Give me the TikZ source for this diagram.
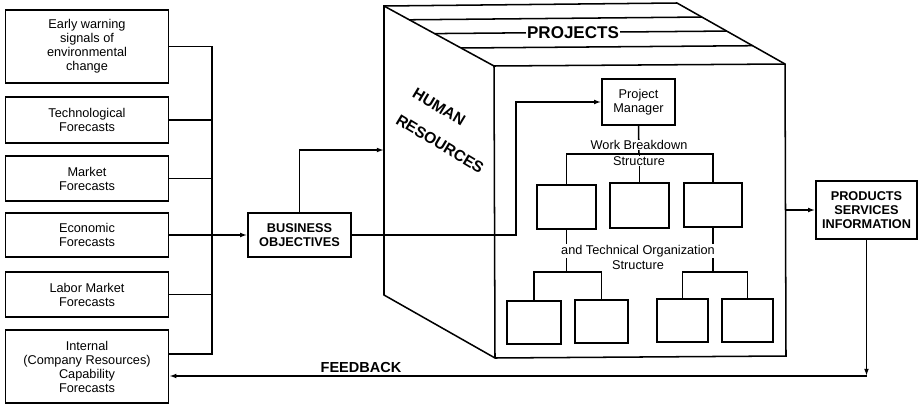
\documentclass[tikz,border=0pt]{standalone}
\usepackage{fontspec}
\setmainfont{Liberation Sans}
\usetikzlibrary{arrows.meta,calc}
\tikzset{>={Latex[width=1.2mm,length=1.8mm]}}
\tikzset{
  fcbox/.style={shape=rectangle,draw,inner sep=0pt,minimum width=1.63in,align=center,font=\fontsize{9.2}{10.1}\selectfont},
  capbox/.style={shape=rectangle,draw,inner sep=0pt,align=center,font=\fontsize{9.2}{10.1}\selectfont\bfseries},
  orgbox/.style={shape=rectangle,draw,inner sep=0pt},
  orglabel/.style={fill=white,inner sep=0.5pt,align=center,font=\fontsize{9.2}{10.1}\selectfont},
  bigcap/.style={inner sep=1pt,font=\fontsize{11}{12}\selectfont\bfseries}
}

\begin{document}
\begin{tikzpicture}[line width=1.1pt]
\useasboundingbox (0,0) rectangle (9.22in,-4.08in);

% forecasts
\path (0.87in,-0.465in) node [fcbox,minimum height=0.73in] (early) {Early warning\\signals of\\environmental\\change};

\path (0.87in,-1.20in) node [fcbox,minimum height=0.46in] (techno) {Technological\\Forecasts};

\path (0.87in,-1.785in) node [fcbox,minimum height=0.45in] (market) {Market\\Forecasts};

\path (0.87in,-2.35in) node [fcbox,minimum height=0.44in] (econ) {Economic\\Forecasts};

\path (0.87in,-2.945in) node [fcbox,minimum height=0.45in] (labor) {Labor Market\\Forecasts};

\path (0.87in,-3.665in) node [fcbox,minimum height=0.73in] (internal) {Internal\\(Company Resources)\\Capability\\Forecasts};

\path (2.995in,-2.35in) node [capbox,minimum width=1.03in,minimum height=0.44in] (busobj) {BUSINESS\\OBJECTIVES};

\path (8.665in,-2.10in) node [capbox,minimum width=1.01in,minimum height=0.58in] (prod) {PRODUCTS\\SERVICES\\INFORMATION};

% cube
\coordinate (tbl) at (3.84in,-0.06in);
\coordinate (tbr) at (6.77in,-0.03in);
\coordinate (ftl) at (4.94in,-0.66in);
\coordinate (ftr) at (7.85in,-0.64in);
\coordinate (fbr) at (7.86in,-3.56in);
\coordinate (fbl) at (4.95in,-3.58in);
\coordinate (sbl) at (3.84in,-2.95in);
\draw (tbl) -- (tbr) -- (ftr) -- (fbr) -- (fbl) -- (sbl) -- cycle;
\draw (tbl) -- (ftl) -- (ftr);
\draw (ftl) -- (fbl);
\draw ($(tbl)!0.23!(ftl)$) -- ($(tbr)!0.23!(ftr)$);
\draw ($(tbl)!0.46!(ftl)$) -- ($(tbr)!0.46!(ftr)$);
\draw ($(tbl)!0.70!(ftl)$) -- ($(tbr)!0.70!(ftr)$);
\path (5.73in,-0.33in) node [bigcap,fill=white,font=\fontsize{12.3}{13}\selectfont\bfseries] (projects) {PROJECTS};

\path (4.39in,-1.07in) node [bigcap,inner sep=0pt,rotate=-31,font=\fontsize{11.3}{12}\selectfont\bfseries] (human) {HUMAN};
\path (4.40in,-1.44in) node [bigcap,inner sep=0pt,rotate=-31,font=\fontsize{11.3}{12}\selectfont\bfseries] (resources) {RESOURCES};

% organization
\path (6.385in,-1.02in) node [orgbox,minimum width=0.73in,minimum height=0.46in,align=center,font=\fontsize{9.2}{10.1}\selectfont] (pm) {Project\\Manager};

\path (5.665in,-2.07in) node [orgbox,minimum width=0.59in,minimum height=0.44in] (wba) {};
\path (6.395in,-2.055in) node [orgbox,minimum width=0.59in,minimum height=0.45in] (wbb) {};
\path (7.13in,-2.05in) node [orgbox,minimum width=0.58in,minimum height=0.44in] (wbc) {};

\path (5.34in,-3.225in) node [orgbox,minimum width=0.54in,minimum height=0.43in] (toa) {};
\path (6.015in,-3.215in) node [orgbox,minimum width=0.53in,minimum height=0.43in] (tob) {};
\path (6.825in,-3.205in) node [orgbox,minimum width=0.51in,minimum height=0.43in] (toc) {};
\path (7.475in,-3.205in) node [orgbox,minimum width=0.51in,minimum height=0.43in] (tod) {};

\coordinate (wbbar) at (6.39in,-1.54in);
\coordinate (lbar) at (5.665in,-2.72in);
\coordinate (rbar) at (7.13in,-2.72in);
\draw (pm.south) -- (wbbar);
\draw (wba.north) |- (wbbar) -| (wbc.north);
\draw (wbb.north) -- (wbb.north |- wbbar);
\draw (wba.south) -- (lbar);
\draw (wbc.south) -- (rbar);
\draw (toa.north) |- (lbar) -| (tob.north);
\draw (toc.north) |- (rbar) -| (tod.north);
\path (6.39in,-1.45in) node [orglabel] (wblabel) {Work Breakdown};
\path (6.39in,-1.61in) node [orglabel] (wbstruct) {Structure};
\path (6.38in,-2.51in) node [orglabel] (tolabel) {and Technical Organization};
\path (6.38in,-2.65in) node [orglabel] (tostruct) {Structure};

% connectors
\coordinate (bustop) at (2.12in,-0.465in);
\coordinate (busbot) at (2.12in,-3.54in);
\draw (early.east) -- (bustop) -- (busbot) -- (internal.east |- busbot);
\draw (techno.east) -- (techno.east -| bustop);
\draw (market.east) -- (market.east -| bustop);
\draw (labor.east) -- (labor.east -| bustop);
\draw[->] (econ.east) -- (busobj.west);

\coordinate (hrin) at (3.84in,-1.50in);
\draw[->] (busobj.north) |- (hrin);
\coordinate (pmturn) at (5.16in,-2.35in);
\draw[->] (busobj.east) -- (pmturn) |- (pm.west);

\coordinate (prodin) at (7.86in,-2.10in);
\draw[->] (prodin) -- (prod.west);
\coordinate (fbcorner) at (8.665in,-3.76in);
\draw[->] (prod.south) -- (fbcorner);
\draw[->] (fbcorner) -- (internal.east |- fbcorner);
\path (3.61in,-3.67in) node [bigcap,font=\fontsize{10.5}{12}\selectfont\bfseries] (feedback) {FEEDBACK};

\end{tikzpicture}
\end{document}
